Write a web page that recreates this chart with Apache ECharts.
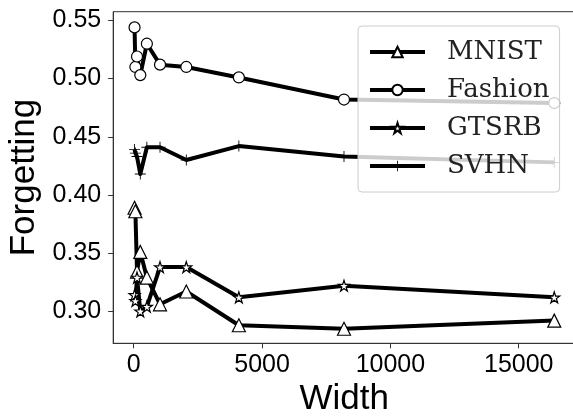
<!DOCTYPE html>
<html>
<head>
<meta charset="utf-8">
<script src="https://cdn.jsdelivr.net/npm/echarts@6/dist/echarts.min.js"></script>
<style>
	html, body { margin: 0; padding: 0; background: #fff; }
	#chart { width: 573px; height: 418px; }
</style>
</head>
<body>
<div id="chart"></div>
<script>
var widths = [32, 64, 128, 256, 512, 1024, 2048, 4096, 8192, 16384];
var mnist = [0.389, 0.386, 0.334, 0.351, 0.329, 0.306, 0.317, 0.288, 0.285, 0.292];
var fashion = [0.544, 0.510, 0.519, 0.503, 0.530, 0.512, 0.510, 0.501, 0.482, 0.479];
var gtsrb = [0.314, 0.309, 0.329, 0.300, 0.304, 0.338, 0.338, 0.312, 0.322, 0.312];
var svhn = [0.439, 0.436, 0.433, 0.418, 0.441, 0.441, 0.430, 0.442, 0.433, 0.428];
var xTicks = [0, 5000, 10000, 15000];
var yTicks = [0.30, 0.35, 0.40, 0.45, 0.50, 0.55];

var starPath = 'path://M50 0 L61.23 34.55 L97.55 34.55 L68.17 55.9 L79.39 90.45 L50 69.1 L20.61 90.45 L31.83 55.9 L2.45 34.55 L38.77 34.55 Z';
var plusPath = 'path://M46 0 L54 0 L54 46 L100 46 L100 54 L54 54 L54 100 L46 100 L46 54 L0 54 L0 46 L46 46 Z';

function pairs(ys) { //把宽度和数值组合成点
	var out = [];
	for (var i = 0; i < widths.length; i++) out.push([widths[i], ys[i]]);
	return out;
}

function makeSeries(name, ys, symbol, size, fill, border) {
	return {
		name: name,
		type: 'line',
		data: pairs(ys),
		symbol: symbol,
		symbolSize: size,
		showAllSymbol: true,
		lineStyle: { color: '#000', width: 4, join: 'round' },
		itemStyle: { color: fill, borderColor: '#000', borderWidth: border },
		emphasis: { disabled: true },
		animation: false
	};
}

var chart = echarts.init(document.getElementById('chart'));
chart.setOption({
	animation: false,
	grid: {
		left: 113.2, top: 11.7, width: 462, height: 331.6,
		outerBoundsMode: 'none', containLabel: false,
		show: true, borderColor: '#333', borderWidth: 1
	},
	xAxis: {
		type: 'value', min: -800, max: 17200,
		name: 'Width', nameLocation: 'middle', nameGap: 37,
		nameTextStyle: { fontFamily: 'Liberation Sans', fontSize: 35, color: '#000' },
		axisLine: { onZero: false, lineStyle: { color: '#333', width: 1 } },
		axisTick: { show: true, length: 5, customValues: xTicks, lineStyle: { color: '#333' } },
		axisLabel: {
			customValues: xTicks, margin: 9, fontFamily: 'Liberation Sans', fontSize: 25, color: '#000',
			formatter: function (v) { return String(v); }
		},
		splitLine: { show: false }
	},
	yAxis: {
		type: 'value', min: 0.2725, max: 0.5575,
		name: 'Forgetting', nameLocation: 'middle', nameGap: 66,
		nameTextStyle: { fontFamily: 'Liberation Sans', fontSize: 35, color: '#000' },
		axisLine: { show: true, onZero: false, lineStyle: { color: '#333', width: 1 } },
		axisTick: { show: true, length: 5, customValues: yTicks, lineStyle: { color: '#333' } },
		axisLabel: {
			customValues: yTicks, margin: 12, fontFamily: 'Liberation Sans', fontSize: 25, color: '#000',
			formatter: function (v) { return v.toFixed(2); }
		},
		splitLine: { show: false }
	},
	legend: {
		data: ['MNIST', 'Fashion', 'GTSRB', 'SVHN'],
		orient: 'vertical',
		left: 358, top: 26,
		padding: [13, 10, 13, 10],
		itemWidth: 55, itemHeight: 13, itemGap: 12,
		backgroundColor: 'rgba(255,255,255,0.8)',
		borderColor: '#ccc', borderWidth: 1, borderRadius: 4,
		lineStyle: { width: 4, color: '#000' },
		textStyle: { fontFamily: 'DejaVu Serif', fontSize: 26, lineHeight: 26, color: '#222', padding: [0, 0, 0, 17] }
	},
	series: [
		makeSeries('MNIST', mnist, 'triangle', 13, '#fff', 1.2),
		makeSeries('Fashion', fashion, 'circle', 11, '#fff', 1.2),
		makeSeries('GTSRB', gtsrb, starPath, 11, '#fff', 1.2),
		makeSeries('SVHN', svhn, plusPath, 11, '#000', 0)
	]
});
</script>
</body>
</html>
